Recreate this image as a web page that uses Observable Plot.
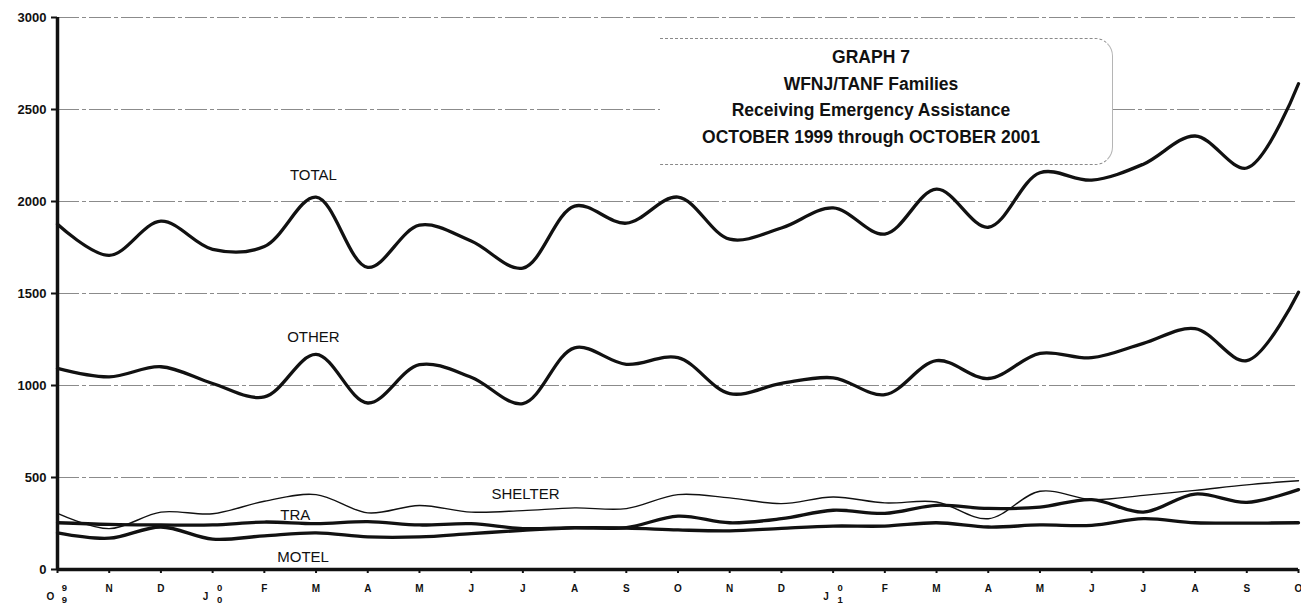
<!DOCTYPE html>
<html>
<head>
<meta charset="utf-8">
<script src="https://cdn.jsdelivr.net/npm/d3@7"></script>
<script src="https://cdn.jsdelivr.net/npm/@observablehq/plot@0.6"></script>
<style>
  body { margin: 0; background: #fff; font-family: "Liberation Sans", Arial, sans-serif; }
  #wrap { position: relative; width: 1301px; height: 606px; overflow: hidden; }
  #box { position: absolute; left: 660px; top: 38px; width: 452px; height: 125px; background: #fff;
         border-top: 1px dashed #8a8a8a; border-bottom: 1px dashed #8a8a8a; border-right: 1px solid #b5b5b5;
         border-radius: 0 18px 18px 0; }
  #title { position: absolute; left: 571px; top: 44px; width: 600px; text-align: center;
           font-weight: bold; font-size: 17.5px; line-height: 26.7px; color: #111; }
</style>
</head>
<body>
<div id="wrap">
  <div id="chart"></div>
  <div id="box"></div>
  <div id="title">GRAPH 7<br>WFNJ/TANF Families<br>Receiving Emergency Assistance<br>OCTOBER 1999 through OCTOBER 2001</div>
</div>
<script>
// Month letters, October 1999 .. October 2001
const months = ["O","N","D","J","F","M","A","M","J","J","A","S","O","N","D","J","F","M","A","M","J","J","A","S","O"];
// Year markers shown under the first month of each year
const yearIdx = [0, 3, 15];
const yearLabels = ["9\n9", "0\n0", "0\n1"];

// Series values (families)
const total   = [1876,1707,1893,1740,1755,2024,1642,1871,1785,1638,1975,1882,2024,1795,1856,1965,1823,2067,1860,2156,2116,2203,2356,2182,2640];
const other   = [1093,1047,1102,1011, 938,1169, 905,1113,1045, 902,1205,1115,1151, 956,1011,1042, 950,1135,1038,1175,1151,1229,1309,1135,1507];
const shelter = [ 305, 222, 312, 303, 371, 407, 308, 348, 312, 320, 335, 331, 407, 389, 358, 394, 362, 367, 276, 425, 380, 403, 430, 460, 482];
const tra     = [ 254, 245, 242, 242, 258, 249, 260, 242, 249, 222, 228, 228, 290, 254, 276, 322, 305, 349, 332, 339, 380, 312, 410, 365, 434];
const motel   = [ 199, 170, 231, 165, 183, 199, 177, 177, 195, 213, 226, 225, 215, 210, 224, 236, 236, 254, 231, 242, 240, 276, 254, 252, 254];

const yTicks = [0, 500, 1000, 1500, 2000, 2500, 3000];

// Series label annotations (data coordinates)
const labelNames = ["TOTAL", "OTHER", "SHELTER", "TRA", "MOTEL"];
const labelX = [4.95, 4.95, 9.05, 4.6, 4.75];
const labelY = [2144, 1265, 409, 295, 65];

const idx = d3.range(months.length);
const series = (vals) => vals.map((v, i) => ({i, v}));
const labels = labelNames.map((t, k) => ({t, x: labelX[k], y: labelY[k]}));
const years = yearIdx.map((i, k) => ({i, t: yearLabels[k]}));
const plainMonths = idx.filter(i => !yearIdx.includes(i));

const thick = {x: "i", y: "v", stroke: "#111", strokeWidth: 3.3, curve: "catmull-rom"};

const chart = Plot.plot({
  width: 1301,
  height: 606,
  marginLeft: 57,
  marginRight: 3,
  marginTop: 17,
  marginBottom: 37,
  style: {fontFamily: "Liberation Sans, Arial, sans-serif", color: "#111", background: "#fff", overflow: "visible"},
  x: {domain: [0, 24]},
  y: {domain: [0, 3000]},
  marks: [
    Plot.ruleY(yTicks.filter(d => d > 0), {stroke: "#777", strokeWidth: 1, strokeOpacity: 0.85, strokeDasharray: "22,3,4,3"}),
    Plot.line(series(shelter), {x: "i", y: "v", stroke: "#111", strokeWidth: 1.4, curve: "catmull-rom"}),
    Plot.line(series(motel), thick),
    Plot.line(series(tra), thick),
    Plot.line(series(other), thick),
    Plot.line(series(total), thick),
    Plot.ruleX([0], {stroke: "#111", strokeWidth: 3.5}),
    Plot.ruleY([0], {stroke: "#111", strokeWidth: 3.5}),
    Plot.axisY({ticks: yTicks, tickSize: 6, tickPadding: 5, strokeWidth: 2, fontWeight: "bold", fontSize: 13, label: null, tickFormat: d => String(d)}),
    Plot.axisX({ticks: idx, tickSize: 4, strokeWidth: 2, tickFormat: () => "", label: null}),
    Plot.text(plainMonths, {x: d => d, y: 0, text: d => months[d], dy: 19, fontSize: 10, fontWeight: "bold"}),
    Plot.text(yearIdx, {x: d => d, y: 0, text: d => months[d], dy: 27, dx: -7, fontSize: 10, fontWeight: "bold"}),
    Plot.text(years, {x: "i", y: 0, text: "t", dy: 24, dx: 7, fontSize: 9.5, fontWeight: "bold", lineHeight: 1.25}),
    Plot.text(labels, {x: "x", y: "y", text: "t", fontSize: 15, fill: "#111"})
  ]
});
document.getElementById("chart").append(chart);
</script>
</body>
</html>
